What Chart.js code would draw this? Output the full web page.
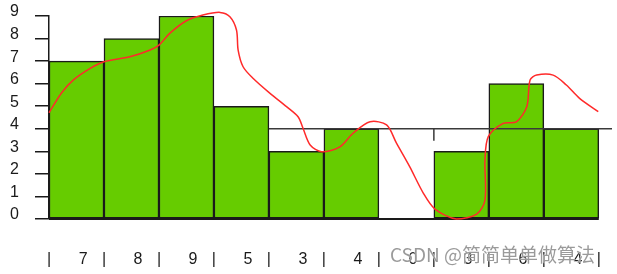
<!DOCTYPE html>
<html lang="zh">
<head>
  <meta charset="UTF-8">
  <title>Histogram</title>
  <style>
    body {
      margin: 0;
      background: #ffffff;
    }

    .wrap {
      position: relative;
      width: 617px;
      height: 274px;
    }

    .mark {
      position: absolute;
      left: 390px;
      top: 244px;
      font-family: 'Noto Sans CJK SC', 'Liberation Sans', sans-serif;
      font-size: 19px;
      line-height: 19px;
      color: rgba(120, 120, 120, 0.75);
      text-shadow: 0 0 1px #fff, 0 0 1px #fff;
      white-space: nowrap;
      pointer-events: none;
    }
  </style>
</head>
<body>
  <div class="wrap">
    <canvas id="chart" width="617" height="274"></canvas>
    <div class="mark">CSDN @简简单单做算法</div>
  </div>
  <script src="https://cdn.jsdelivr.net/npm/chart.js"></script>
  <script>
    // bar heights, one per column
    const barValues = [7, 8, 9, 5, 3, 4, 0, 3, 6, 4];
    const yTicks = [0, 1, 2, 3, 4, 5, 6, 7, 8, 9];

    // red curve (column units, value units)
    const curveX = [0, 0.23, 0.44, 0.75, 1.0, 1.47, 1.84, 2.0, 2.2, 2.5, 2.8, 3.11, 3.29, 3.41, 3.44, 3.53, 3.71,
      4.02, 4.32, 4.53, 4.62, 4.75, 4.96, 5.29, 5.53, 5.84, 6.14, 6.32, 6.56, 6.81, 7.02, 7.41, 7.78, 7.93, 7.93,
      7.99, 8.26, 8.5, 8.69, 8.75, 8.87, 9.17, 9.41, 9.65, 9.99];
    const curveY = [4.71, 5.6, 6.16, 6.68, 6.97, 7.19, 7.49, 7.71, 8.24, 8.79, 9.04, 9.16, 8.97, 8.38, 7.49, 6.75, 6.24,
      5.57, 4.98, 4.53, 4.02, 3.28, 2.98, 3.2, 3.8, 4.31, 4.17, 3.36, 2.32, 1.14, 0.44, 0, 0.22, 0.84, 2.62,
      3.65, 4.24, 4.31, 4.98, 6.16, 6.38, 6.38, 5.94, 5.35, 4.76];

    // horizontal rule at 4 and the little stub under it
    const ruleX = [4, 10.24];
    const ruleY = [4, 4];
    const stubX = [7, 7];
    const stubY = [4, 3.47];

    const ink = "#1a1a1a";
    const xMax = 10.24;
    const ctx = document.getElementById("chart").getContext("2d");

    const bars = barValues.map((v, i) => ({ x: i + 0.5, y: v }));
    const curve = curveX.map((x, i) => ({ x: x, y: curveY[i] }));
    const rule = ruleX.map((x, i) => ({ x: x, y: ruleY[i] }));
    const stub = stubX.map((x, i) => ({ x: x, y: stubY[i] }));
    const base = [{ x: 0, y: 0 }, { x: barValues.length, y: 0 }];

    // "|" at every column edge, the value a bit right of each column centre
    const xTickVals = [];
    for (let i = 0; i <= barValues.length; i++) {
      xTickVals.push(i);
      if (i < barValues.length) xTickVals.push(i + 0.62);
    }

    new Chart(ctx, {
      type: "bar",
      data: {
        datasets: [
          {
            type: "line",
            data: curve,
            borderColor: "#ff2a2a",
            borderWidth: 1.5,
            pointRadius: 0,
            tension: 0.3,
            clip: false,
            order: 1,
          },
          {
            type: "line",
            data: rule,
            borderColor: "#3a3a3a",
            borderWidth: 1.5,
            pointRadius: 0,
            clip: false,
            order: 2,
          },
          {
            type: "line",
            data: stub,
            borderColor: "#3a3a3a",
            borderWidth: 1.5,
            pointRadius: 0,
            clip: false,
            order: 2,
          },
          {
            type: "line",
            data: base,
            borderColor: ink,
            borderWidth: 2,
            pointRadius: 0,
            clip: false,
            order: 2,
          },
          {
            data: bars,
            backgroundColor: "#66cc00",
            borderColor: ink,
            borderWidth: 1.5,
            borderSkipped: false,
            barPercentage: 1,
            categoryPercentage: 1,
            order: 3,
          },
        ],
      },
      options: {
        responsive: false,
        animation: false,
        events: [],
        layout: { padding: { top: 16, right: 5, left: 10, bottom: 0 } },
        plugins: {
          legend: { display: false },
          tooltip: { enabled: false },
        },
        scales: {
          // plotting axis, one step per column, not shown
          x: {
            type: "linear",
            offset: false,
            min: 0,
            max: xMax,
            display: false,
            ticks: { stepSize: 1 },
          },
          // label axis under the columns
          xl: {
            type: "linear",
            position: "bottom",
            offset: false,
            min: 0,
            max: xMax,
            afterBuildTicks: (s) => {
              s.ticks = xTickVals.map((v) => ({ value: v }));
            },
            afterFit: (s) => {
              s.height = 55;
            },
            // invisible tick marks only push the labels down
            grid: {
              display: true,
              drawOnChartArea: false,
              drawTicks: true,
              tickLength: 31,
              color: "rgba(0,0,0,0)",
            },
            border: { display: false },
            ticks: {
              autoSkip: false,
              maxRotation: 0,
              padding: 0,
              color: "#1a1a1a",
              font: { family: "'Liberation Sans', Arial, sans-serif", size: 16 },
              callback: (v) => {
                if (Number.isInteger(v)) return "|";
                return String(barValues[Math.floor(v)]);
              },
            },
          },
          y: {
            min: 0,
            max: 9,
            afterBuildTicks: (s) => {
              s.ticks = yTicks.map((v) => ({ value: v }));
            },
            afterFit: (s) => {
              s.width = 39;
            },
            grid: {
              drawOnChartArea: false,
              tickLength: 14,
              color: ink,
              lineWidth: 1.5,
            },
            border: { display: true, color: ink, width: 1.5 },
            ticks: {
              autoSkip: false,
              padding: 0,
              crossAlign: "far",
              labelOffset: -4,
              color: "#1a1a1a",
              font: { family: "'Liberation Sans', Arial, sans-serif", size: 16 },
            },
          },
        },
      },
    });
  </script>
</body>
</html>
